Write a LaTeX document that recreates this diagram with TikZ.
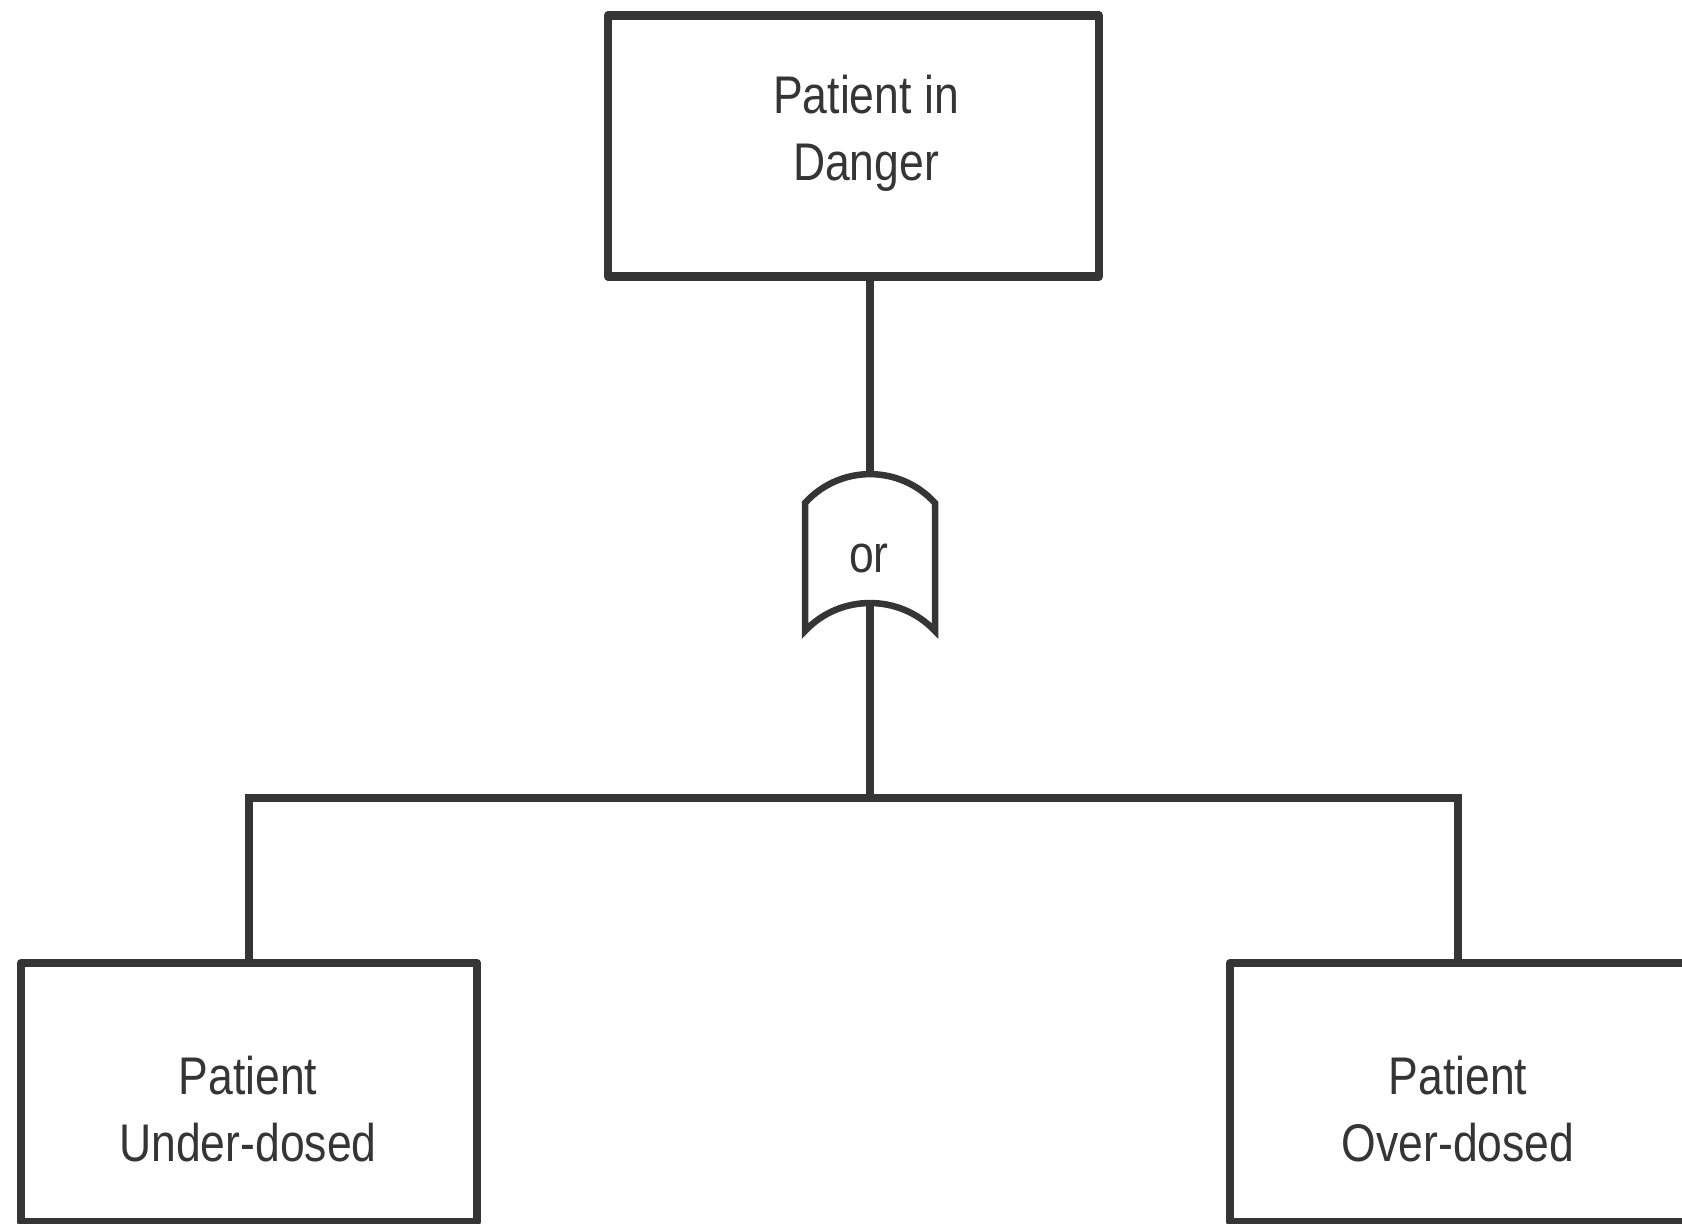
\documentclass[tikz,border=0pt]{standalone}
\usepackage{fontspec}
\setmainfont[FakeStretch=0.84]{Liberation Sans}
\definecolor{ink}{HTML}{353535}
\begin{document}
\begin{tikzpicture}[x=1pt,y=-1pt,
  eventbox/.style={draw=ink, line width=8.5pt, line join=round, inner sep=0pt},
  wire/.style={draw=ink, line width=7.5pt},
  gateline/.style={draw=ink, line width=6.5pt, line join=miter},
  caption/.style={text=ink, align=center, anchor=base, inner sep=0pt,
    font=\fontsize{53}{67}\selectfont}]
\useasboundingbox (0,0) rectangle (1682,1224);

% event boxes
\node[eventbox, minimum width=491pt, minimum height=261pt] (top) at (853.5,146) {};
\node[eventbox, minimum width=456pt, minimum height=259pt] (under) at (249,1092.5) {};
\node[eventbox, minimum width=456pt, minimum height=259pt] (over) at (1458,1092.5) {};

% box captions (anchored on the baseline of the last line)
\node[caption] (toptext) at (866,180) {Patient in\\Danger};
\node[caption] (undertext) at (248,1161) {Patient\\Under-dosed};
\node[caption] (overtext) at (1458,1161) {Patient\\Over-dosed};

% OR gate: straight sides, circular top and bottom arcs
\coordinate (gtop) at (870,474);
\coordinate (gbot) at (870,603);
\coordinate (bus) at (870,798);
\draw[gateline] (805,631) -- (805,503)
  .. controls (840,464.5) and (900,464.5) .. (935,503)
  -- (935,631)
  .. controls (900,593.7) and (840,593.7) .. cycle;
\node[caption] (gate) at (869,572) {or};

% connectors
\draw[wire] (top.south -| gtop) -- (gtop);
\draw[wire] (gbot) -- (bus);
\draw[wire] (bus) -| (under.north);
\draw[wire] (bus) -| (over.north);
\end{tikzpicture}
\end{document}
